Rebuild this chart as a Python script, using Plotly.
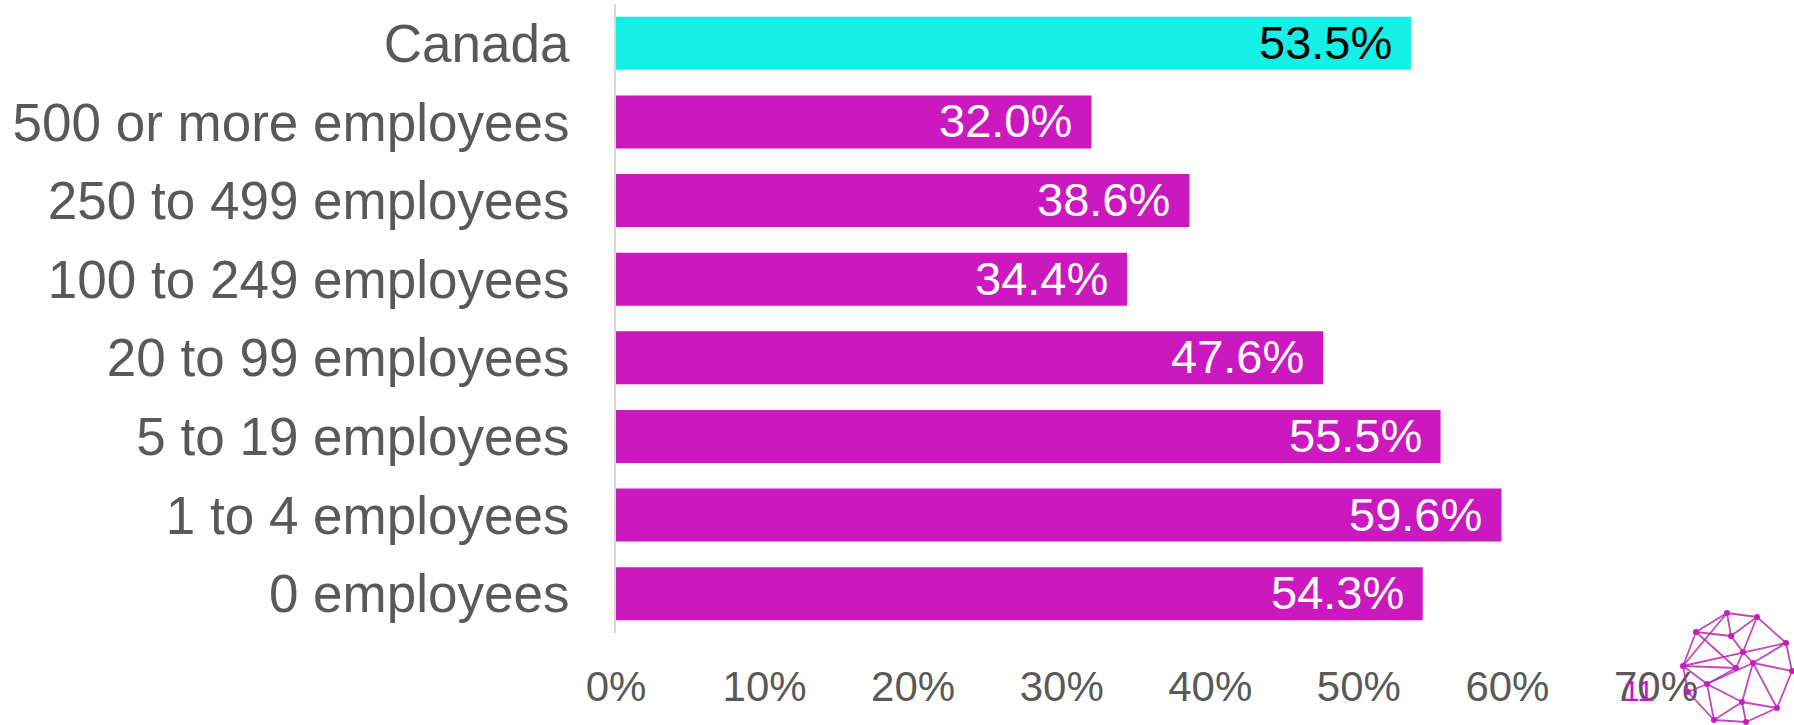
import plotly.graph_objects as go

categories = ["Canada", "500 or more employees", "250 to 499 employees",
              "100 to 249 employees", "20 to 99 employees", "5 to 19 employees",
              "1 to 4 employees", "0 employees"]
values = [0.535, 0.320, 0.386, 0.344, 0.476, 0.555, 0.596, 0.543]
labels = ["53.5%", "32.0%", "38.6%", "34.4%", "47.6%", "55.5%", "59.6%", "54.3%"]
bar_colors = ["#14F0E6"] + ["#CC19BF"] * 7
label_colors = ["#000000"] + ["#FFFFFF"] * 7
x_ticks = [0, 0.1, 0.2, 0.3, 0.4, 0.5, 0.6, 0.7]
x_ticklabels = ["0%", "10%", "20%", "30%", "40%", "50%", "60%", "70%"]

W, H = 1794, 725
ML, MR, MT, MB = 616, 138, 4, 92
PW, PH = W - ML - MR, H - MT - MB
FONT = "Liberation Sans, Arial, sans-serif"
GRAY = "#595959"

fig = go.Figure()
fig.add_trace(go.Bar(
    x=values, y=categories, orientation="h",
    marker=dict(color=bar_colors, line=dict(width=0)),
    hoverinfo="skip", showlegend=False,
))

annotations = []
for c, v, t, col in zip(categories, values, labels, label_colors):
    annotations.append(dict(
        x=v, y=c, xref="x", yref="y", text=t, showarrow=False,
        xanchor="right", yanchor="middle", xshift=-17, yshift=1,
        font=dict(family=FONT, size=47, color=col),
    ))

# page number
annotations.append(dict(
    x=(1638 - ML) / PW, y=(H - MB - 690) / PH, xref="paper", yref="paper",
    text="11", showarrow=False, xanchor="center", yanchor="middle",
    font=dict(family=FONT, size=30, color="#CC19BF"),
))

# decorative network logo (pixel positions)
nodes = {
    "A": (1727, 613), "B": (1757, 617), "C": (1696, 632), "D": (1731, 636),
    "E": (1786, 643), "F": (1743, 652), "G": (1683, 666), "H": (1736, 668),
    "I": (1753, 663), "J": (1792, 671), "K": (1707, 684), "M": (1688, 692),
    "N": (1742, 702), "O": (1777, 708), "P": (1714, 720), "Q": (1746, 722),
}
edges = ["AB", "AC", "AD", "BD", "BE", "BF", "CD", "CG", "CH", "DF", "AG",
         "EG", "EJ", "EI", "FH", "FI", "GK", "GH", "GM", "HK", "IK", "IN",
         "IJ", "IO", "KN", "KP", "JO", "NO", "NP", "NQ", "OQ", "PQ", "MK", "MP"]


def px(p):
    return ((p[0] - ML) / PW, (H - MB - p[1]) / PH)


shapes = []
for e in edges:
    x0, y0 = px(nodes[e[0]])
    x1, y1 = px(nodes[e[1]])
    shapes.append(dict(type="line", xref="paper", yref="paper",
                       x0=x0, y0=y0, x1=x1, y1=y1,
                       line=dict(color="rgba(185,40,175,0.85)", width=1.8)))
r = 3
for k, p in nodes.items():
    shapes.append(dict(type="circle", xref="paper", yref="paper",
                       x0=(p[0] - r - ML) / PW, x1=(p[0] + r - ML) / PW,
                       y0=(H - MB - p[1] - r) / PH, y1=(H - MB - p[1] + r) / PH,
                       fillcolor="#CC19BF", line=dict(width=0)))

fig.update_layout(
    width=W, height=H,
    margin=dict(l=ML, r=MR, t=MT, b=MB, pad=0),
    paper_bgcolor="white", plot_bgcolor="white",
    bargap=0.327,
    font=dict(family=FONT, color=GRAY),
    annotations=annotations, shapes=shapes,
    xaxis=dict(range=[0, 0.7], tickvals=x_ticks, ticktext=x_ticklabels,
               showgrid=False, zeroline=False, showline=False, ticks="",
               tickfont=dict(family=FONT, size=42, color=GRAY),
               ticklabelstandoff=25, fixedrange=True),
    yaxis=dict(categoryorder="array", categoryarray=categories,
               autorange="reversed", showgrid=False, zeroline=False,
               showline=True, linecolor="#D9D9D9", linewidth=2, ticks="",
               tickfont=dict(family=FONT, size=53, color=GRAY),
               ticklabelstandoff=34, fixedrange=True),
)

fig.write_html("out.html", config={"displayModeBar": False})
